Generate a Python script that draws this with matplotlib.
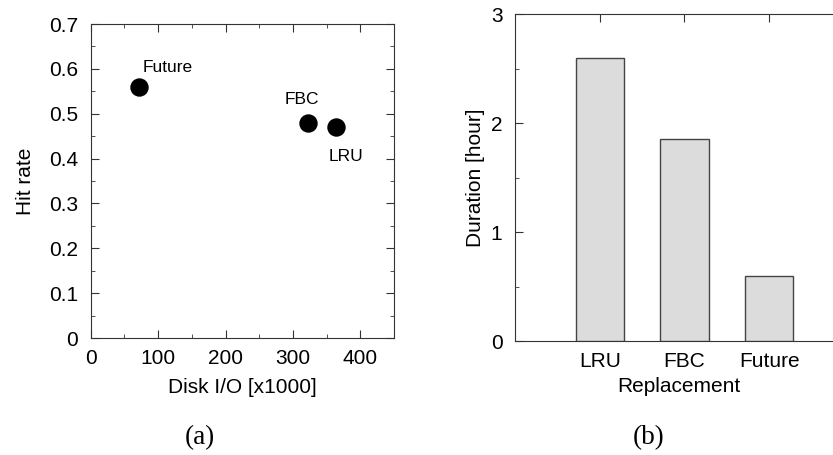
import matplotlib
matplotlib.use("Agg")
import matplotlib.pyplot as plt
from matplotlib.ticker import MultipleLocator
from matplotlib.transforms import offset_copy

# Data
policies_a = ["Future", "FBC", "LRU"]
disk_io = [71, 323, 364]
hit_rate = [0.56, 0.48, 0.47]
label_offsets_px = [(29, 19), (-7, 23), (10, -29)]

policies_b = ["LRU", "FBC", "Future"]
duration = [2.60, 1.85, 0.60]

plt.rcParams['font.family'] = ['Liberation Sans', 'DejaVu Sans']
fs = 15

fig = plt.figure(figsize=(8.33, 4.55), dpi=100)

# (a) scatter
ax1 = fig.add_axes([0.1089, 0.2571, 0.3641, 0.690])
ax1.scatter(disk_io, hit_rate, s=150, color='black', zorder=3)
for x, y, name, (dx, dy) in zip(disk_io, hit_rate, policies_a, label_offsets_px):
    tr = offset_copy(ax1.transData, fig=fig, x=dx, y=dy, units='dots')
    ax1.text(x, y, name, transform=tr, ha='center', va='center', fontsize=12.5)
ax1.set_xlim(0, 450)
ax1.set_ylim(0, 0.7)
ax1.xaxis.set_minor_locator(MultipleLocator(50))
ax1.yaxis.set_minor_locator(MultipleLocator(0.05))
ax1.tick_params(which='both', direction='in', top=True, right=True, labelsize=fs, color='#333333')
ax1.tick_params(which='major', length=6)
ax1.tick_params(which='minor', length=3)
ax1.tick_params(axis='x', which='major', pad=8)
ax1.tick_params(axis='y', which='major', pad=9)
ax1.set_xticks([0, 100, 200, 300, 400])
ax1.set_xticklabels(['0', '100', '200', '300', '400'])
ax1.set_yticks([0, 0.1, 0.2, 0.3, 0.4, 0.5, 0.6, 0.7])
ax1.set_yticklabels(['0', '0.1', '0.2', '0.3', '0.4', '0.5', '0.6', '0.7'])
ax1.set_xlabel("Disk I/O [x1000]", fontsize=fs, labelpad=7)
ax1.set_ylabel("Hit rate", fontsize=fs, labelpad=10)
for sp in ax1.spines.values():
    sp.set_color('#333333')

# (b) bars
ax2 = fig.add_axes([0.6182, 0.2505, 0.3938, 0.7187])
pos = [1, 2, 3]
ax2.bar(pos, duration, width=0.57, color='#dcdcdc', edgecolor='#444444', linewidth=1.0, zorder=3)
ax2.set_xlim(0, 3.87)
ax2.set_ylim(0, 3)
ax2.set_xticks(pos)
ax2.set_xticklabels(policies_b)
ax2.yaxis.set_minor_locator(MultipleLocator(0.5))
ax2.tick_params(axis='x', which='both', direction='in', top=True, bottom=False, labelsize=fs, length=6, color='#333333', pad=8)
ax2.tick_params(axis='y', which='both', direction='in', right=False, labelsize=fs, color='#333333')
ax2.tick_params(axis='y', which='major', length=6, pad=9)
ax2.tick_params(axis='y', which='minor', length=3)
ax2.set_yticks([0, 1, 2, 3])
ax2.set_yticklabels(['0', '1', '2', '3'])
ax2.spines['right'].set_visible(False)
for sp in ax2.spines.values():
    sp.set_color('#333333')
ax2.set_xlabel("Replacement", fontsize=fs, labelpad=4)
ax2.set_ylabel("Duration [hour]", fontsize=fs, labelpad=4)

fig.text(200/833, 1 - 438/455, "(a)", family=['Liberation Serif', 'DejaVu Serif'], fontsize=19.5, ha='center', va='center')
fig.text(649/833, 1 - 438/455, "(b)", family=['Liberation Serif', 'DejaVu Serif'], fontsize=19.5, ha='center', va='center')

fig.savefig("out.png", dpi=100)
